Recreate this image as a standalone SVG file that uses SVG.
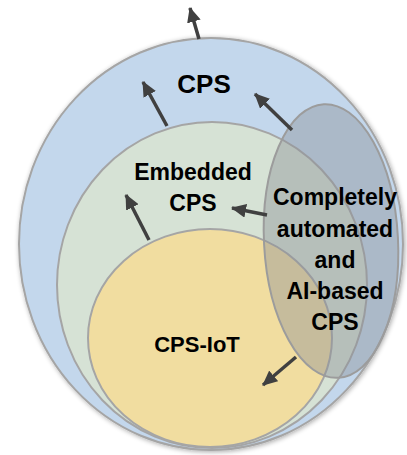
<svg xmlns="http://www.w3.org/2000/svg" width="407" height="455" viewBox="0 0 407 455">
  <style>
    .ring { stroke: #a5a5a5; stroke-width: 2; }
    .lbl { font-family: "Liberation Sans", Arial, sans-serif; font-weight: bold; fill: #000; text-anchor: middle; }
    .arrow { stroke: #404040; stroke-width: 3.5; fill: none; marker-end: url(#head); }
  </style>
  <defs>
    <marker id="head" markerUnits="userSpaceOnUse" markerWidth="16" markerHeight="14" refX="14" refY="7" orient="auto">
      <path d="M0,0 L15,7 L0,14 Z" fill="#404040"/>
    </marker>
    <filter id="soft" x="-10%" y="-10%" width="120%" height="120%">
      <feGaussianBlur in="SourceAlpha" stdDeviation="2.5"/>
      <feOffset dx="1" dy="1"/>
      <feComponentTransfer><feFuncA type="linear" slope="0.35"/></feComponentTransfer>
      <feMerge><feMergeNode/><feMergeNode in="SourceGraphic"/></feMerge>
    </filter>
  </defs>

  <rect width="407" height="455" fill="#ffffff"/>

  <!-- outer set: CPS -->
  <g id="cps">
    <ellipse cx="211" cy="244" rx="192" ry="206" fill="#c3d7ec" class="ring" filter="url(#soft)"/>
    <text class="lbl" x="204" y="93" font-size="26">CPS</text>
  </g>

  <!-- middle set: Embedded CPS -->
  <g id="embedded">
    <ellipse cx="212" cy="285" rx="155" ry="163" fill="#d6e2d5" class="ring"/>
    <text class="lbl" x="193" y="180" font-size="23">Embedded</text>
    <text class="lbl" x="193" y="211" font-size="23">CPS</text>
  </g>

  <!-- inner set: CPS-IoT -->
  <g id="cpsiot">
    <ellipse cx="210" cy="338" rx="122" ry="109" fill="#f1dda0" class="ring"/>
    <text class="lbl" x="197" y="352" font-size="22">CPS-IoT</text>
  </g>

  <!-- overlapping set: automated / AI-based CPS -->
  <g id="ai">
    <ellipse cx="331" cy="241" rx="67" ry="137" transform="rotate(-3 331 241)" fill="#8b8f97" fill-opacity="0.42" stroke="#9c9c9c" stroke-width="2"/>
    <text class="lbl" x="335" y="205" font-size="23">Completely</text>
    <text class="lbl" x="335" y="237" font-size="23">automated</text>
    <text class="lbl" x="335" y="268" font-size="23">and</text>
    <text class="lbl" x="335" y="299" font-size="23">AI-based</text>
    <text class="lbl" x="335" y="330" font-size="23">CPS</text>
  </g>

  <!-- expansion arrows -->
  <g id="connectors">
    <line class="arrow" x1="199" y1="39" x2="190" y2="8"/>
    <line class="arrow" x1="167" y1="126" x2="143" y2="82"/>
    <line class="arrow" x1="292" y1="130" x2="255" y2="94"/>
    <line class="arrow" x1="149" y1="240" x2="126" y2="195"/>
    <line class="arrow" x1="267" y1="215" x2="232" y2="208"/>
    <line class="arrow" x1="296" y1="357" x2="263" y2="385"/>
  </g>
</svg>
